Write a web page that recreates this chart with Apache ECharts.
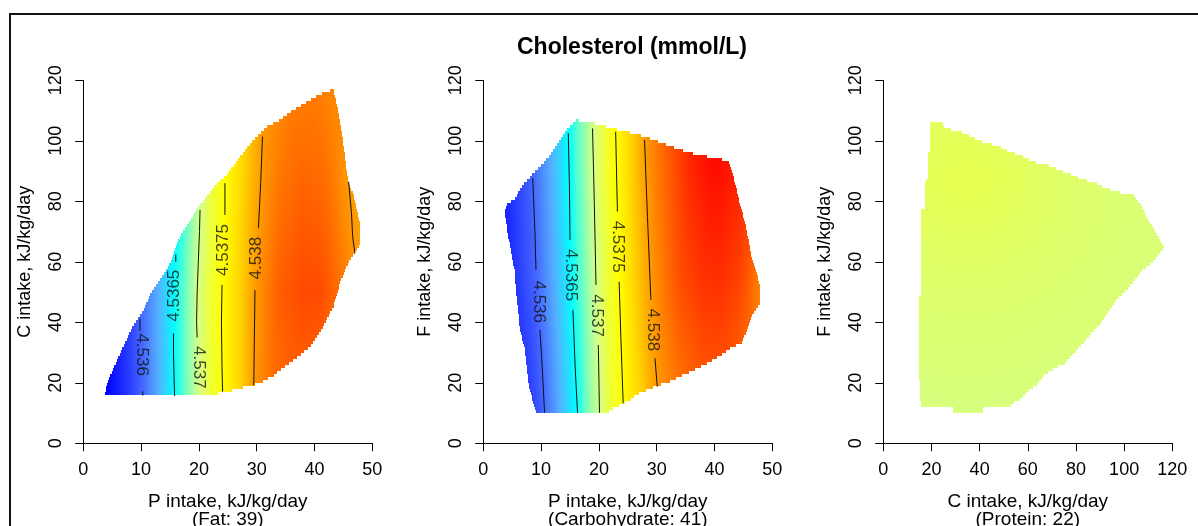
<!DOCTYPE html>
<html>
<head>
<meta charset="utf-8">
<script src="https://cdn.jsdelivr.net/npm/echarts@6/dist/echarts.min.js"></script>
<style>
  html, body { margin: 0; padding: 0; background: #fff; }
  #chart { width: 1198px; height: 526px; }
</style>
</head>
<body>
<div id="chart"></div>
<script>
// Colour ramp: predicted cholesterol (mmol/L) -> colour
const rampValues = [4.5355, 4.536, 4.53625, 4.5365, 4.537, 4.5375, 4.538, 4.5385];
const rampColors = ['#0000ff', '#4466ff', '#55b0ff', '#00ffff', '#d4ff8a', '#ffff00', '#ff9a00', '#ff0000'];

// ---- Panel 1: P intake vs C intake, fat held at 39 ----
const fatHull = [[3.8,16],[11.3,16],[11.3,15.6],[21.4,15.6],[23.4,16.5],[26,17.6],[28.3,18.8],[30.6,19.8],
  [32.9,22.4],[36.3,27.3],[39.2,31.9],[41.5,38.6],[43.3,45.2],[44.4,52.9],[45.8,59.5],[47,62.8],[47.9,65.6],
  [47.9,72.9],[47.3,77.1],[46.7,82.6],[45.8,86.5],[45.3,94.7],[44.4,106.9],[43.8,112.4],[43.3,117],
  [41.5,115.9],[39.2,113.5],[36.3,110.2],[33.5,106.3],[31.7,104.7],[29.4,100.3],[27.1,94.7],[24.8,88.7],
  [23.1,86],[21.3,81.5],[20.2,78.8],[18.5,73.8],[16.7,68.3],[15,59.5],[13.3,54],[11.8,50.1],[10.4,44.1],
  [8.65,39.1],[6.9,31.9],[5.5,25.9],[4.05,19.8]];
// surface read along a few rows of constant C intake
const fatRowsY = [20, 50, 85, 112];
const fatRowsX = [
  [4, 8, 10.3, 13, 15.8, 18, 19.9, 22, 24.1, 27, 29.5, 33, 38, 44, 48],
  [4, 9.8, 13, 15.7, 18, 19.7, 22, 24.0, 27, 29.7, 34, 38, 41, 44, 48],
  [10, 16.1, 20.3, 22.5, 24.5, 27.5, 30.7, 34, 38, 42, 45.8, 48],
  [20, 24.8, 28, 31.2, 36, 40, 44, 48]
];
const fatRowsV = [
  [4.5355, 4.5358, 4.536, 4.53625, 4.5365, 4.5368, 4.537, 4.5373, 4.5375, 4.5377, 4.538, 4.53815, 4.5382, 4.5381, 4.538],
  [4.5355, 4.536, 4.53625, 4.5365, 4.5368, 4.537, 4.5373, 4.5375, 4.5377, 4.538, 4.5382, 4.53826, 4.53826, 4.53815, 4.538],
  [4.5359, 4.5365, 4.537, 4.5373, 4.5375, 4.5377, 4.538, 4.53812, 4.53818, 4.53815, 4.538, 4.53795],
  [4.537, 4.5375, 4.5377, 4.538, 4.5381, 4.53811, 4.53806, 4.538]
];
const fatContours = [
  [[9.8,41.2],[9.8,37.2]],
  [[10.3,17.2],[10.3,15.8]],
  [[16.0,62.4],[16.0,60.0]],
  [[15.6,36.4],[15.6,30],[15.7,22],[15.8,15.6]],
  [[20.2,77.1],[20.1,70],[19.9,60],[19.7,50],[19.6,40],[19.7,35]],
  [[24.5,86],[24.5,75.5]],
  [[24.0,52.3],[23.9,40],[24.0,25],[24.1,17.1]],
  [[31.0,101.4],[30.7,86.3],[30.3,71.1]],
  [[29.7,50.7],[29.6,35],[29.5,19.3]],
  [[45.9,86.5],[46.4,76.0],[46.6,68.3],[47.0,62.8]]
];
const fatLabels = [[10.1,29.3,'4.536'],[15.7,48.8,'4.5365'],[19.9,25.1,'4.537'],[24.3,63.9,'4.5375'],[30.0,61.2,'4.538']];

// ---- Panel 2: P intake vs F intake, carbohydrate held at 41 ----
const carbHull = [[3.75,77.1],[4.05,78.8],[5.5,81.0],[6.6,84.8],[8.65,89.3],[10.4,92.6],[11.8,95.9],[13.3,100.3],
  [14.7,104.1],[15.6,105.8],[16.2,107.1],[16.8,106.3],[18.8,106.0],[21.3,104.7],[23.7,103.4],[26.0,102.5],
  [28.3,101.2],[30.9,99.2],[33.5,97.5],[35.5,96.1],[37.8,95.3],[40.4,93.9],[42.4,93.7],[42.7,92.0],[43.3,88.1],
  [44.4,79.3],[45.3,72.7],[45.9,67.2],[46.5,60.6],[47.3,56.2],[47.9,51.8],[47.9,46.3],[46.7,43.0],[46.1,39.7],
  [44.7,33.1],[42.7,31.4],[40.7,28.6],[38.7,26.4],[36.4,24.2],[34.6,22.6],[32.3,20.4],[30.6,19.3],[28.3,17.6],
  [26.5,16.0],[25.4,14.3],[23.7,12.7],[22.5,11.5],[21.4,10.1],[9.24,10.1],[8.65,13.2],[7.8,19.8],[7.2,30.8],
  [6.35,37.5],[5.7,49.6],[5.4,57.3],[4.15,70.0],[3.75,76]];
const carbRowsY = [15, 55, 92];
const carbRowsX = [
  [4, 8, 10.4, 13.2, 16.1, 18, 20.0, 22, 24.1, 27, 30.1, 34, 38, 42, 46, 48],
  [4, 6, 9.15, 12.3, 15.2, 17.5, 19.5, 21.5, 23.5, 26, 28.9, 34, 38, 41, 44, 46, 48],
  [4, 8.5, 11.8, 14.8, 17, 19.0, 21, 23.0, 25.5, 28.1, 32, 36, 39.5, 41, 44, 48]
];
const carbRowsV = [
  [4.5356, 4.5358, 4.536, 4.53625, 4.5365, 4.5368, 4.537, 4.5373, 4.5375, 4.5377, 4.538, 4.53812, 4.5382, 4.5382, 4.53812, 4.53805],
  [4.53565, 4.5358, 4.536, 4.53625, 4.5365, 4.5368, 4.537, 4.5373, 4.5375, 4.5377, 4.538, 4.53825, 4.53834, 4.53835, 4.5383, 4.5382, 4.53806],
  [4.5357, 4.536, 4.53625, 4.5365, 4.5368, 4.537, 4.5373, 4.5375, 4.5377, 4.538, 4.5382, 4.53838, 4.53846, 4.53846, 4.5384, 4.5383]
];
const carbContours = [
  [[8.55,87.6],[8.94,69.4],[9.12,57.3]],
  [[9.8,37.5],[10.2,25],[10.6,10.1]],
  [[14.7,102.5],[14.9,85],[15.0,67.2]],
  [[15.5,44.1],[15.9,25],[16.3,10.1]],
  [[18.9,104.1],[19.2,80],[19.5,52.3]],
  [[19.9,32.5],[20.1,10.1]],
  [[22.9,103.0],[23.2,76.6]],
  [[23.5,53.4],[23.8,35],[24.2,13.2]],
  [[27.9,100.3],[28.4,75],[29.0,47.4]],
  [[29.7,28.1],[30.1,18.7]]
];
const carbLabels = [[9.5,46.8,'4.536'],[15.1,55.6,'4.5365'],[19.6,42.2,'4.537'],[23.3,65.0,'4.5375'],[29.3,37.5,'4.538']];

// ---- Panel 3: C intake vs F intake, protein held at 22 ----
const protHull = [[19.5,106.1],[24.8,106.1],[24.8,104.9],[28.5,103.6],[33.1,102.7],[36.5,101.4],[40.0,100.0],
  [44.8,98.9],[49.0,97.7],[52.5,96.3],[56.6,95.3],[60.1,94.0],[64.2,92.6],[68.4,92.0],[73.2,90.3],[76.7,89.3],
  [80.8,87.9],[85.0,86.7],[88.4,86.0],[91.9,84.5],[96.7,83.2],[100.2,82.6],[103.7,82.4],[105.1,80.7],
  [107.1,78.8],[109.2,74.9],[111.3,72.2],[113.4,69.4],[115.4,66.6],[116.8,64.8],[114.7,62.8],[112.0,60.0],
  [107.8,57.3],[104.4,54.0],[100.9,50.7],[96.7,47.4],[94.0,44.1],[90.5,39.7],[86.4,36.4],[82.9,33.1],
  [79.4,29.8],[75.3,26.4],[71.1,24.8],[67.0,22.6],[64.2,19.8],[60.1,17.1],[56.6,14.3],[53.1,13.0],
  [53.1,11.9],[41.4,11.9],[41.4,10.1],[28.9,10.1],[28.9,11.9],[15.8,11.9],[15.1,15.4],[14.7,48.5],
  [15.8,49],[15.8,77.4],[17.4,78],[17.4,86.7],[18.5,87.2],[18.5,96.3],[19.5,97]];
// values along a ray running out from the highest point
const protRay = [[35,88],[45,55],[60,15]];
const protRayV = [4.53722, 4.53712, 4.53705];

// axis ranges: [min, max, interval]
const pTicks = [0, 50, 10];
const cTicks = [0, 120, 20];

const FONT = '"Liberation Sans", Arial, Helvetica, sans-serif';

function hexToRgb(h) { return [1, 3, 5].map(i => parseInt(h.slice(i, i + 2), 16)); }
function mix(a, b, t) {
  const A = hexToRgb(a), B = hexToRgb(b);
  return 'rgb(' + A.map((v, i) => Math.round(v + (B[i] - v) * t)).join(',') + ')';
}
function rampColor(v) {
  const n = rampValues.length;
  if (v <= rampValues[0]) return rampColors[0];
  if (v >= rampValues[n - 1]) return rampColors[n - 1];
  for (let i = 1; i < n; i++) {
    if (v <= rampValues[i]) {
      const t = (v - rampValues[i - 1]) / (rampValues[i] - rampValues[i - 1]);
      return mix(rampColors[i - 1], rampColors[i], t);
    }
  }
}
// piecewise-linear reading of one row, held flat beyond its ends
function rowAt(xs, vs, x) {
  if (x <= xs[0]) return vs[0];
  const n = xs.length;
  if (x >= xs[n - 1]) return vs[n - 1];
  for (let i = 1; i < n; i++) {
    if (x <= xs[i]) return vs[i - 1] + (vs[i] - vs[i - 1]) * (x - xs[i - 1]) / (xs[i] - xs[i - 1]);
  }
}

// Horizontal extent of a polygon (pixel space) at height y
function spanAt(pts, y) {
  let lo = Infinity, hi = -Infinity;
  for (let i = 0; i < pts.length; i++) {
    const a = pts[i], b = pts[(i + 1) % pts.length];
    if ((a[1] <= y && b[1] > y) || (b[1] <= y && a[1] > y)) {
      const x = a[0] + (y - a[1]) * (b[0] - a[0]) / (b[1] - a[1]);
      lo = Math.min(lo, x); hi = Math.max(hi, x);
    }
  }
  return hi > lo ? [lo, hi] : null;
}

// Image-style surface: the hull is filled in thin horizontal strips.
// fillFor(pixelY, left, right, api) returns the strip's fill.
function stripSurface(idx, hull, fillFor) {
  const STEP = 3;
  return {
    type: 'custom', xAxisIndex: idx, yAxisIndex: idx, silent: true, animation: false, z: 1,
    data: hull, encode: { x: 0, y: 1 },
    renderItem(params, api) {
      if (params.dataIndex !== 0) return null;
      const pts = hull.map(p => api.coord(p));
      const ys = pts.map(p => p[1]);
      const top = Math.floor(Math.min(...ys)), bottom = Math.ceil(Math.max(...ys));
      const children = [];
      for (let py = top; py < bottom; py += STEP) {
        const yc = py + STEP / 2;
        const span = spanAt(pts, yc);
        if (!span) continue;
        const l = Math.round(span[0]), r = Math.round(span[1]);
        if (r <= l) continue;
        children.push({
          type: 'rect', shape: { x: l, y: py, width: r - l, height: STEP },
          style: { fill: fillFor(yc, l, r, api) }
        });
      }
      return { type: 'group', children };
    }
  };
}

// Fill from rows of readings: blend the two rows around the strip, sample across it
function rowFill(rowsY, rowsX, rowsV) {
  return (yc, l, r, api) => {
    const o = api.coord([0, 0]), u = api.coord([10, 10]);
    const sx = (u[0] - o[0]) / 10, sy = (u[1] - o[1]) / 10;
    const yData = (yc - o[1]) / sy;
    let k = 0;
    while (k < rowsY.length - 2 && yData > rowsY[k + 1]) k++;
    let t = (yData - rowsY[k]) / (rowsY[k + 1] - rowsY[k]);
    t = Math.max(0, Math.min(1, t));
    const stops = [];
    const x0 = (l - o[0]) / sx, x1 = (r - o[0]) / sx;
    const n = Math.max(2, Math.ceil((x1 - x0) / 0.5) + 1);
    for (let i = 0; i < n; i++) {
      const x = x0 + (x1 - x0) * i / (n - 1);
      const v = rowAt(rowsX[k], rowsV[k], x) * (1 - t) + rowAt(rowsX[k + 1], rowsV[k + 1], x) * t;
      stops.push({ offset: i / (n - 1), color: rampColor(v) });
    }
    return { type: 'linear', x: l, y: yc, x2: r, y2: yc, colorStops: stops, global: true };
  };
}

function rayFill(ray, rayV) {
  return (yc, l, r, api) => {
    const c = api.coord(ray[0]);
    const dist = p => { const q = api.coord(p); return Math.hypot(q[0] - c[0], q[1] - c[1]); };
    const R = dist(ray[ray.length - 1]);
    const stops = ray.map((p, i) => ({ offset: dist(p) / R, color: rampColor(rayV[i]) }));
    return { type: 'radial', x: c[0], y: c[1], r: R, colorStops: stops, global: true };
  };
}

function contourLines(idx, segs) {
  return segs.map(seg => ({
    type: 'line', xAxisIndex: idx, yAxisIndex: idx, data: seg, showSymbol: false, symbol: 'none',
    silent: true, animation: false, z: 3, lineStyle: { color: '#111', width: 1 }
  }));
}

function contourLabels(idx, labels, turns) {
  return {
    type: 'scatter', xAxisIndex: idx, yAxisIndex: idx, symbolSize: 0, silent: true, animation: false, z: 4,
    data: labels.map((l, i) => ({ value: l, label: { rotate: turns[i] } })),
    label: {
      show: true, position: 'inside', formatter: p => p.value[2],
      fontFamily: FONT, fontSize: 17, color: '#111'
    }
  };
}

const gridW = 289, gridH = 363, gridTop = 80.3;
const grids = [83.3, 483.3, 883.3].map(l => ({
  left: l, top: gridTop, width: gridW, height: gridH, containLabel: false, outerBoundsMode: 'none'
}));

function xAxis(idx, ticks, name) {
  return {
    type: 'value', gridIndex: idx, min: ticks[0], max: ticks[1], interval: ticks[2], offset: 2,
    axisLine: { show: true, lineStyle: { color: '#000', width: 1 } },
    axisTick: { show: true, length: 8, lineStyle: { color: '#000', width: 1 } },
    axisLabel: { fontFamily: FONT, fontSize: 18, color: '#000', margin: 16 },
    splitLine: { show: false },
    name: name, nameLocation: 'middle', nameGap: 47,
    nameTextStyle: { fontFamily: FONT, fontSize: 19, lineHeight: 18, color: '#000' }
  };
}
function yAxis(idx, ticks, name) {
  return {
    type: 'value', gridIndex: idx, min: ticks[0], max: ticks[1], interval: ticks[2], offset: 2,
    axisLine: { show: true, lineStyle: { color: '#000', width: 1 } },
    axisTick: { show: true, length: 8, lineStyle: { color: '#000', width: 1 } },
    axisLabel: { fontFamily: FONT, fontSize: 18, color: '#000', margin: 16, rotate: 90 },
    splitLine: { show: false },
    name: name, nameLocation: 'middle', nameGap: 47,
    nameTextStyle: { fontFamily: FONT, fontSize: 18, color: '#000' }
  };
}

const chart = echarts.init(document.getElementById('chart'), null, { renderer: 'canvas' });
chart.setOption({
  animation: false,
  backgroundColor: '#fff',
  grid: grids,
  xAxis: [
    xAxis(0, pTicks, 'P intake, kJ/kg/day\n(Fat: 39)'),
    xAxis(1, pTicks, 'P intake, kJ/kg/day\n(Carbohydrate: 41)'),
    xAxis(2, cTicks, 'C intake, kJ/kg/day\n(Protein: 22)')
  ],
  yAxis: [
    yAxis(0, cTicks, 'C intake, kJ/kg/day'),
    yAxis(1, cTicks, 'F intake, kJ/kg/day'),
    yAxis(2, cTicks, 'F intake, kJ/kg/day')
  ],
  graphic: [
    { type: 'polyline', silent: true, shape: { points: [[10, 560], [10, 14], [1240, 14]] },
      style: { stroke: '#111', lineWidth: 2, fill: null } },
    { type: 'text', silent: true, x: 632, y: 48,
      style: { text: 'Cholesterol (mmol/L)', font: 'bold 23px ' + FONT, fill: '#000', align: 'center', verticalAlign: 'middle' } }
  ],
  series: [
    stripSurface(0, fatHull, rowFill(fatRowsY, fatRowsX, fatRowsV)),
    stripSurface(1, carbHull, rowFill(carbRowsY, carbRowsX, carbRowsV)),
    stripSurface(2, protHull, rayFill(protRay, protRayV)),
    ...contourLines(0, fatContours),
    ...contourLines(1, carbContours),
    contourLabels(0, fatLabels, [-90, 90, -90, 90, 90]),
    contourLabels(1, carbLabels, [-90, -90, -90, -90, -90])
  ]
});
</script>
</body>
</html>
